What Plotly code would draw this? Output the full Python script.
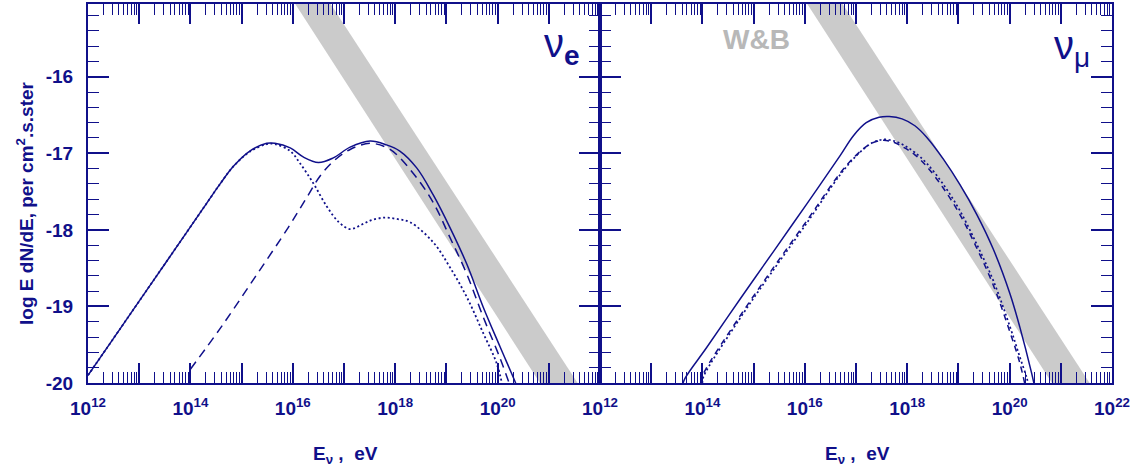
import numpy as np
import plotly.graph_objects as go

# log10(E/eV) and log10(E dN/dE)

# nu_e panel
nue_tot_logE = [12.0, 12.65, 13.3, 13.95, 14.29, 14.58, 14.84, 15.16, 15.49, 15.65, 15.95,
                16.21, 16.5, 16.79, 17.12, 17.51, 17.83, 18.09, 18.42, 18.74, 19.07, 19.4,
                19.72, 20.05, 20.34, 20.42]
nue_tot_logF = [-19.9, -19.27, -18.64, -18.01, -17.68, -17.4, -17.17, -16.97, -16.87,
                -16.87, -16.93, -17.05, -17.12, -17.06, -16.92, -16.84, -16.89, -16.97,
                -17.19, -17.54, -17.97, -18.45, -19.01, -19.53, -19.98, -20.12]

nue_pp_logE = [12.0, 12.65, 13.3, 13.95, 14.29, 14.58, 14.84, 15.16, 15.49, 15.65, 15.95,
               16.14, 16.4, 16.66, 16.9, 17.12, 17.35, 17.55, 17.8, 18.05, 18.29, 18.74,
               19.07, 19.4, 19.72, 19.98, 20.1]
nue_pp_logF = [-19.9, -19.27, -18.64, -18.01, -17.68, -17.4, -17.17, -16.98, -16.88,
               -16.88, -16.97, -17.13, -17.39, -17.69, -17.9, -17.99, -17.93, -17.87,
               -17.84, -17.86, -17.9, -18.16, -18.49, -18.88, -19.35, -19.74, -20.05]

nue_pg_logE = [14.0, 14.6, 15.26, 15.91, 16.27, 16.53, 16.8, 17.12, 17.51, 17.9, 18.35,
               18.74, 19.07, 19.4, 19.72, 20.05, 20.25]
nue_pg_logF = [-19.82, -19.27, -18.62, -17.97, -17.58, -17.3, -17.1, -16.95, -16.87,
               -16.95, -17.26, -17.64, -18.1, -18.58, -19.14, -19.68, -20.05]

# nu_mu panel
num_tot_logE = [13.6, 13.66, 14.08, 14.73, 15.38, 16.04, 16.69, 16.95, 17.2, 17.45, 17.65,
                17.9, 18.15, 18.38, 18.71, 19.03, 19.36, 19.68, 20.01, 20.2, 20.43, 20.48]
num_tot_logF = [-20.05, -19.94, -19.54, -18.91, -18.29, -17.66, -17.03, -16.77, -16.6,
                -16.53, -16.52, -16.55, -16.64, -16.79, -17.08, -17.41, -17.8, -18.25,
                -18.84, -19.27, -19.87, -20.02]

num_a_logE = [14.0, 14.02, 14.73, 15.38, 16.04, 16.69, 17.01, 17.3, 17.53, 17.75, 17.95,
              18.15, 18.38, 18.71, 19.03, 19.36, 19.68, 20.01, 20.2, 20.33, 20.37]
num_a_logF = [-20.0, -19.92, -19.16, -18.53, -17.91, -17.28, -17.03, -16.87, -16.82, -16.84,
              -16.9, -16.99, -17.13, -17.41, -17.75, -18.19, -18.66, -19.27, -19.66, -19.92,
              -20.02]

num_b_logE = [13.97, 14.02, 14.73, 15.38, 16.04, 16.69, 17.01, 17.3, 17.53, 17.75, 17.95,
              18.15, 18.38, 18.71, 19.03, 19.36, 19.68, 20.01, 20.2, 20.3]
num_b_logF = [-20.0, -19.88, -19.13, -18.5, -17.88, -17.26, -17.02, -16.87, -16.83, -16.86,
              -16.93, -17.02, -17.17, -17.46, -17.8, -18.24, -18.72, -19.34, -19.74, -20.02]

# Waxman-Bahcall band corners
wb_logE = [16.0, 16.69, 22.05, 21.31]
wb_logF = [-15.0, -15.0, -20.5, -20.5]

NAVY = "#10108a"
GRAY = "#cbcbcb"
FONT = "Liberation Sans, Arial, sans-serif"

W, H = 1146, 469
L, R, T, B = 88, 34, 2, 86


def px_x(p):
    return (p - L) / (W - L - R)


def px_y(p):
    return 1 - (p - T) / (H - T - B)


fig = go.Figure()


def add_line(logE, logF, dash, xa, ya, width=1.5):
    fig.add_trace(go.Scatter(
        x=10 ** np.array(logE), y=logF, mode="lines",
        line=dict(color=NAVY, width=width, dash=dash, shape="spline", smoothing=1.0),
        xaxis=xa, yaxis=ya, showlegend=False, hoverinfo="skip"))


for xa, ya in [("x", "y"), ("x2", "y2")]:
    fig.add_trace(go.Scatter(
        x=10 ** np.array(wb_logE), y=wb_logF, mode="lines", fill="toself",
        fillcolor=GRAY, line=dict(width=0), xaxis=xa, yaxis=ya,
        showlegend=False, hoverinfo="skip"))

add_line(nue_tot_logE, nue_tot_logF, "solid", "x", "y")
add_line(nue_pp_logE, nue_pp_logF, "2px,2.6px", "x", "y", width=1.8)
add_line(nue_pg_logE, nue_pg_logF, "9px,6px", "x", "y")

add_line(num_tot_logE, num_tot_logF, "solid", "x2", "y2")
add_line(num_a_logE, num_a_logF, "2px,2.6px", "x2", "y2", width=1.7)
add_line(num_b_logE, num_b_logF, "6px,5px", "x2", "y2")

decades = list(range(12, 23))
major_x = [10.0 ** d for d in decades]
minor_x = [k * 10.0 ** d for d in decades[:-1] for k in range(2, 10)]


def xlabels(skip_last):
    out = []
    for d in decades:
        if d % 2 == 0 and not (skip_last and d == 22):
            out.append("10<sup>%d</sup>" % d)
        else:
            out.append("")
    return out


xbase = dict(
    type="log", range=[12, 22], showline=True, linecolor=NAVY, linewidth=2,
    mirror="ticks", ticks="inside", ticklen=20, tickwidth=1.5, tickcolor=NAVY,
    tickmode="array", tickvals=major_x,
    minor=dict(tickmode="array", tickvals=minor_x, ticks="inside", ticklen=11,
               tickwidth=1, tickcolor=NAVY, showgrid=False),
    showgrid=False, zeroline=False, ticklabelstandoff=7,
    tickfont=dict(family=FONT, size=19, color=NAVY, weight="bold"),
)

ymajor = [-20, -19, -18, -17, -16]
yminor = [round(-20 + 0.2 * i, 1) for i in range(26) if i % 5 != 0]

ybase = dict(
    range=[-20, -15.05], showline=True, linecolor=NAVY, linewidth=2,
    mirror="ticks", ticks="inside", ticklen=21, tickwidth=1.5, tickcolor=NAVY,
    tickmode="array", tickvals=ymajor, ticktext=[str(v) for v in ymajor],
    minor=dict(tickmode="array", tickvals=yminor, ticks="inside", ticklen=11,
               tickwidth=1, tickcolor=NAVY, showgrid=False),
    showgrid=False, zeroline=False, ticklabelstandoff=9,
    tickfont=dict(family=FONT, size=19, color=NAVY, weight="bold"),
)

fig.update_layout(
    width=W, height=H,
    margin=dict(l=L, r=R, t=T, b=B),
    paper_bgcolor="white", plot_bgcolor="white",
    xaxis=dict(xbase, domain=[0, 0.5], anchor="y", ticktext=xlabels(True)),
    xaxis2=dict(xbase, domain=[0.5, 1], anchor="y2", ticktext=xlabels(False)),
    yaxis=dict(ybase, anchor="x"),
    yaxis2=dict(ybase, anchor="x2", matches="y", showticklabels=False),
)

ann = [
    dict(text="log E dN/dE, per cm<sup>2</sup>.s.ster", x=px_x(25), y=px_y(203),
         textangle=-90, font=dict(size=19)),
    dict(text="E<sub>ν</sub> ,  eV", x=px_x(345), y=px_y(455), font=dict(size=19)),
    dict(text="E<sub>ν</sub> ,  eV", x=px_x(857), y=px_y(455), font=dict(size=19)),
    dict(text="ν<sub><b>e</b></sub>", x=px_x(582), y=px_y(44), xanchor="right",
         font=dict(size=40, weight="normal")),
    dict(text="ν<sub>μ</sub>", x=px_x(1092), y=px_y(46), xanchor="right",
         font=dict(size=40, weight="normal")),
    dict(text="W&B", x=px_x(756), y=px_y(38), font=dict(size=28, color="#b8b8b8")),
]
for a in ann:
    f = dict(family=FONT, color=NAVY, weight="bold")
    f.update(a.pop("font"))
    fig.add_annotation(dict(xref="paper", yref="paper", showarrow=False,
                            xanchor=a.pop("xanchor", "center"), yanchor="middle",
                            font=f, **a))

# the page body has a default 8px margin; drop it so the figure fills the window
fig.write_html("out.html", config={"displayModeBar": False},
               post_script="document.body.style.margin='0px';")
